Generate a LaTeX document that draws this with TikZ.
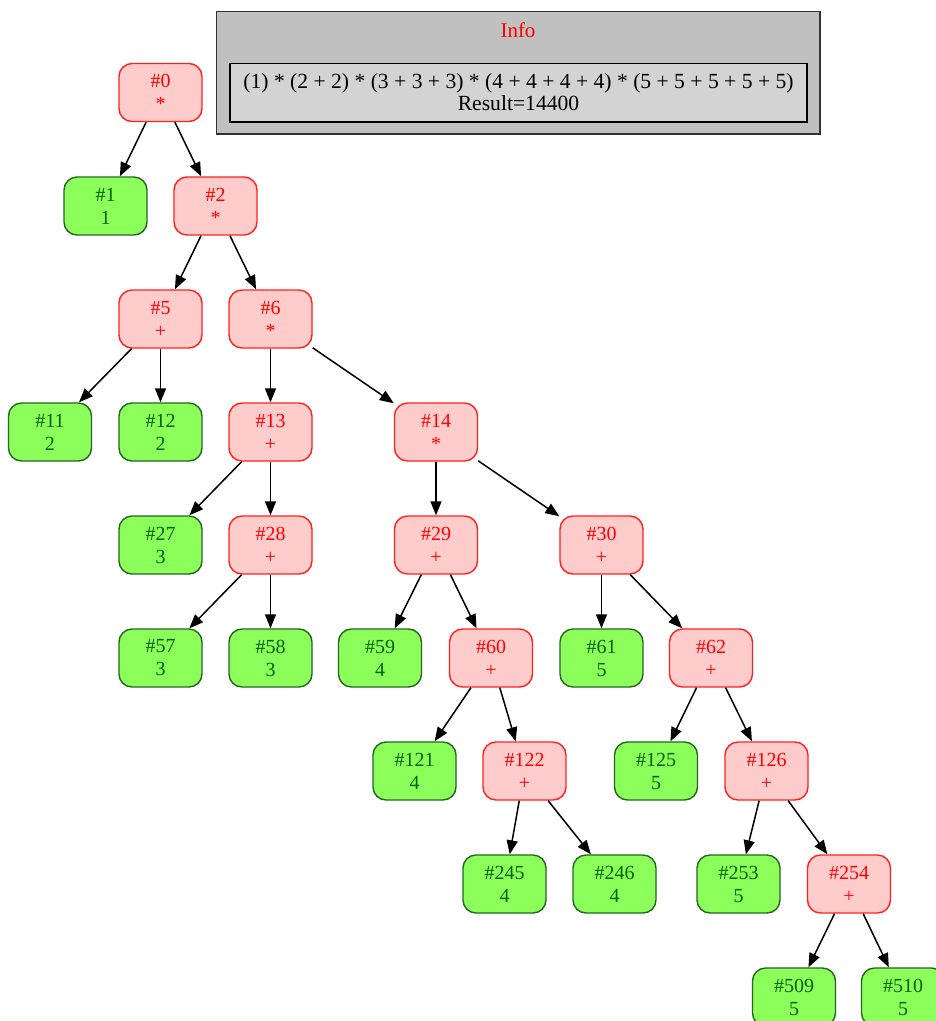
\documentclass[tikz,border=0pt]{standalone}
\usepackage{fontspec}
\setmainfont{Liberation Serif}
\usetikzlibrary{arrows.meta}
\definecolor{opfill}{HTML}{FFCCCC}
\definecolor{opdraw}{HTML}{FF2020}
\definecolor{optext}{HTML}{FF0000}
\definecolor{lffill}{HTML}{8CFF5A}
\definecolor{lfdraw}{HTML}{226622}
\definecolor{lftext}{HTML}{006400}
\definecolor{outerfill}{HTML}{C0C0C0}
\definecolor{innerfill}{HTML}{D3D3D3}
\tikzset{
  base/.style={rectangle, rounded corners=13pt, minimum width=83pt, minimum height=58pt,
    line width=1.4pt, align=center, inner sep=0pt, font=\fontsize{20}{23}\selectfont},
  opnode/.style={base, fill=opfill, draw=opdraw, text=optext},
  lfnode/.style={base, fill=lffill, draw=lfdraw, text=lftext},
  edge/.style={line width=1.5pt, -{Triangle[length=14pt,width=11pt]}},
}
\begin{document}
\begin{tikzpicture}[x=1pt,y=-1pt]
\useasboundingbox (0,0) rectangle (936,1021);
\clip (0,0) rectangle (936,1021);
% info box
\draw[fill=outerfill, draw=black!80, line width=1.4pt] (216.7,11.7) rectangle (820,134);
\node[text=red, font=\fontsize{21}{24}\selectfont] (infotitle) at (518,30) {Info};
\draw[fill=innerfill, draw=black, line width=1.4pt] (230,63.3) rectangle (807,122);
\node[align=center, font=\fontsize{21.6}{22.5}\selectfont, inner sep=0pt] (formula) at (518.5,92) {(1) * (2 + 2) * (3 + 3 + 3) * (4 + 4 + 4 + 4) * (5 + 5 + 5 + 5 + 5)\\Result=14400};
% nodes
\node[opnode] (n0) at (160.5,92.5) {\#0\\*};
\node[lfnode] (n1) at (105.5,206) {\#1\\1};
\node[opnode] (n2) at (215.5,206) {\#2\\*};
\node[opnode] (n5) at (160.5,319) {\#5\\+};
\node[opnode] (n6) at (270.5,319) {\#6\\*};
\node[lfnode] (n11) at (50,432) {\#11\\2};
\node[lfnode] (n12) at (160.5,432) {\#12\\2};
\node[opnode] (n13) at (270.5,432) {\#13\\+};
\node[opnode] (n14) at (436,432) {\#14\\*};
\node[lfnode] (n27) at (160.5,545) {\#27\\3};
\node[opnode] (n28) at (270.5,545) {\#28\\+};
\node[opnode] (n29) at (436,545) {\#29\\+};
\node[opnode] (n30) at (601.5,545) {\#30\\+};
\node[lfnode] (n57) at (160.5,658) {\#57\\3};
\node[lfnode] (n58) at (270.5,658) {\#58\\3};
\node[lfnode] (n59) at (380,658) {\#59\\4};
\node[opnode] (n60) at (491,658) {\#60\\+};
\node[lfnode] (n61) at (601.5,658) {\#61\\5};
\node[opnode] (n62) at (711,658) {\#62\\+};
\node[lfnode] (n121) at (414.5,771) {\#121\\4};
\node[opnode] (n122) at (524.5,771) {\#122\\+};
\node[lfnode] (n125) at (656,771) {\#125\\5};
\node[opnode] (n126) at (766.5,771) {\#126\\+};
\node[lfnode] (n245) at (504.5,884) {\#245\\4};
\node[lfnode] (n246) at (614.5,884) {\#246\\4};
\node[lfnode] (n253) at (738.5,884) {\#253\\5};
\node[opnode] (n254) at (849,884) {\#254\\+};
\node[lfnode] (n509) at (794,997) {\#509\\5};
\node[lfnode] (n510) at (903,997) {\#510\\5};
% edges
\foreach \a/\b in {n0/n1,n0/n2,n2/n5,n2/n6,n5/n11,n5/n12,n6/n13,n6/n14,n13/n27,n13/n28,
  n28/n57,n28/n58,n14/n29,n14/n30,n29/n59,n29/n60,n30/n61,n30/n62,n60/n121,n60/n122,
  n62/n125,n62/n126,n122/n245,n122/n246,n126/n253,n126/n254,n254/n509,n254/n510}
  \draw[edge] (\a) -- (\b);
\end{tikzpicture}
\end{document}
